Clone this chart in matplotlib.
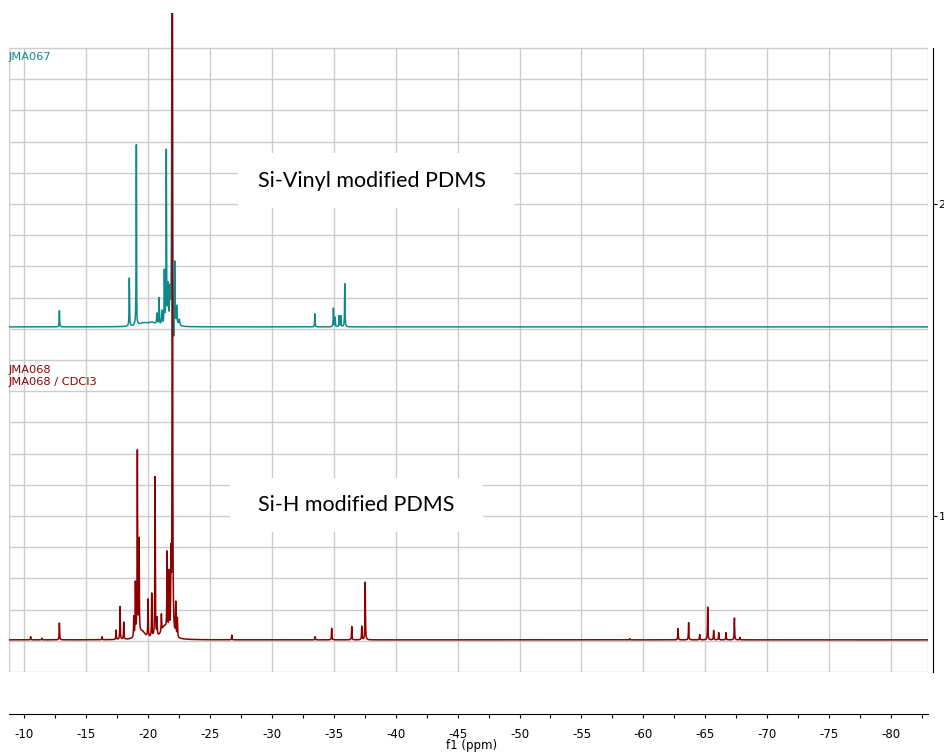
import numpy as np
import matplotlib
matplotlib.use('Agg')
import matplotlib.pyplot as plt
from matplotlib.patches import Rectangle

# =============================================
# 1. DATA — peak lists
# =============================================
# (shift in ppm, height above baseline, half-width in ppm)
vinyl_baseline = 1.606
vinyl_shift  = [-12.82, -18.47, -19.04, -19.08, -19.60, -20.30, -20.70, -20.87, -21.10,
                -21.30, -21.46, -21.60, -21.75, -21.92, -21.97, -22.05, -22.14, -22.30,
                -22.50, -33.46, -34.96, -35.10, -35.42, -35.56, -35.88]
vinyl_height = [0.052, 0.154, 0.600, -0.055, 0.010, 0.012, 0.035, 0.085, 0.045,
                0.170, 0.555, 0.120, 0.100, 2.200, -0.110, -0.080, 0.200, 0.060,
                0.020, 0.042, 0.060, 0.030, 0.035, 0.035, 0.138]
vinyl_width  = [0.02, 0.02, 0.02, 0.03, 0.40, 0.40, 0.03, 0.02, 0.03,
                0.02, 0.02, 0.03, 0.03, 0.02, 0.03, 0.03, 0.02, 0.03,
                0.05, 0.02, 0.02, 0.02, 0.02, 0.02, 0.02]

hydride_baseline = 0.603
hydride_shift  = [-10.50, -11.40, -12.82, -16.27, -17.40, -17.72, -18.02, -18.83, -18.96,
                  -19.12, -19.26, -19.50, -19.98, -20.28, -20.55, -20.71, -21.06, -21.30,
                  -21.52, -21.68, -21.84, -21.95, -22.22, -22.35, -26.75,
                  -33.48, -34.82, -36.44, -37.25, -37.53, -58.90,
                  -62.80, -63.66, -64.55, -65.20, -65.68, -66.09, -66.68, -67.36, -67.80]
hydride_height = [0.010, 0.005, 0.054, 0.010, 0.030, 0.105, 0.055, 0.065, 0.170,
                  0.590, 0.300, 0.025, 0.120, 0.140, 0.515, 0.055, 0.055, 0.040,
                  0.250, 0.190, 0.220, 2.300, 0.105, 0.060, 0.015,
                  0.010, 0.037, 0.043, 0.043, 0.185, 0.004,
                  0.036, 0.055, 0.017, 0.105, 0.030, 0.023, 0.023, 0.070, 0.008]
hydride_width  = [0.02] * 11 + [0.30] + [0.02] * 5 + [0.30] + [0.02] * 22

x_ticks = list(range(-10, -81, -5))
y_ticks = [1, 2]


def spectrum(ppm, baseline, shifts, heights, widths):
    y = np.full_like(ppm, baseline)
    for c, h, w in zip(shifts, heights, widths):
        y += h * w**2 / ((ppm - c)**2 + w**2)
    return y


ppm = np.linspace(-8.75, -83.0, 30000)
vinyl = spectrum(ppm, vinyl_baseline, vinyl_shift, vinyl_height, vinyl_width)
hydride = spectrum(ppm, hydride_baseline, hydride_shift, hydride_height, hydride_width)

# =============================================
# 2. FIGURE
# =============================================
plt.rcParams['axes.unicode_minus'] = False
W, H = 945, 752
fig = plt.figure(figsize=(W / 100, H / 100), dpi=100)
ax = fig.add_axes([9 / W, (H - 672) / H, (928 - 9) / W, (672 - 13) / H])
ax.set_xlim(-8.75, -83.0)
ax.set_ylim(0.5, 2.612)

grid_c = '#cccccc'
ax.hlines(np.arange(0.5, 2.51, 0.1), -8.75, -83.0, color=grid_c, lw=1, zorder=0)
ax.vlines(x_ticks + [-8.75, -83.0], 0.5, 2.5, color=grid_c, lw=1, zorder=0)

teal = '#0e8a8a'
red = '#8b0000'
ax.plot(ppm, vinyl, color=teal, lw=1.1, zorder=3)
ax.plot(ppm, hydride, color=red, lw=1.1, zorder=4)

# white label boxes
for (x0, y0, x1, y1) in [(238, 153, 514, 208), (230, 478, 483, 532)]:
    fig.patches.append(Rectangle((x0 / W, 1 - y1 / H), (x1 - x0) / W, (y1 - y0) / H,
                                 transform=fig.transFigure, facecolor='white',
                                 edgecolor='none', zorder=1))
fig.text(372 / W, 1 - 181 / H, 'Si-Vinyl modified PDMS', fontsize=15.5, family='Lato',
         ha='center', va='center', zorder=2)
fig.text(356 / W, 1 - 505 / H, 'Si-H modified PDMS', fontsize=15.5, family='Lato',
         ha='center', va='center', zorder=2)

fig.text(9 / W, 1 - 57 / H, 'JMA067', color=teal, fontsize=8.2, va='center')
fig.text(9 / W, 1 - 370 / H, 'JMA068', color=red, fontsize=8.2, va='center')
fig.text(9 / W, 1 - 382 / H, 'JMA068 / CDCl3', color=red, fontsize=8.2, va='center')

# axes — detached like the NMR software draws them
for s in ['top', 'left']:
    ax.spines[s].set_visible(False)
ax.spines['bottom'].set_position(('outward', 42 * 0.72))
ax.spines['right'].set_position(('outward', 5 * 0.72))
ax.spines['right'].set_bounds(0.5, 2.5)
ax.yaxis.tick_right()
ax.set_yticks(y_ticks)
ax.set_yticklabels([str(v) for v in y_ticks], fontsize=8)
ax.set_xticks(x_ticks)
ax.set_xticklabels([str(v) for v in x_ticks], fontsize=8.5)
ax.set_xticks(np.arange(-12.5, -83.0, -5), minor=True)
ax.tick_params(axis='x', which='both', length=3, width=0.8, pad=7)
ax.tick_params(axis='y', length=3, width=0.8, pad=1)

# axis title sits just under the -45 label, as in the software export
fig.text(472 / W, 1 - 745 / H, 'f1 (ppm)', fontsize=8.5, ha='center', va='center')

fig.savefig('out.png', dpi=100)
